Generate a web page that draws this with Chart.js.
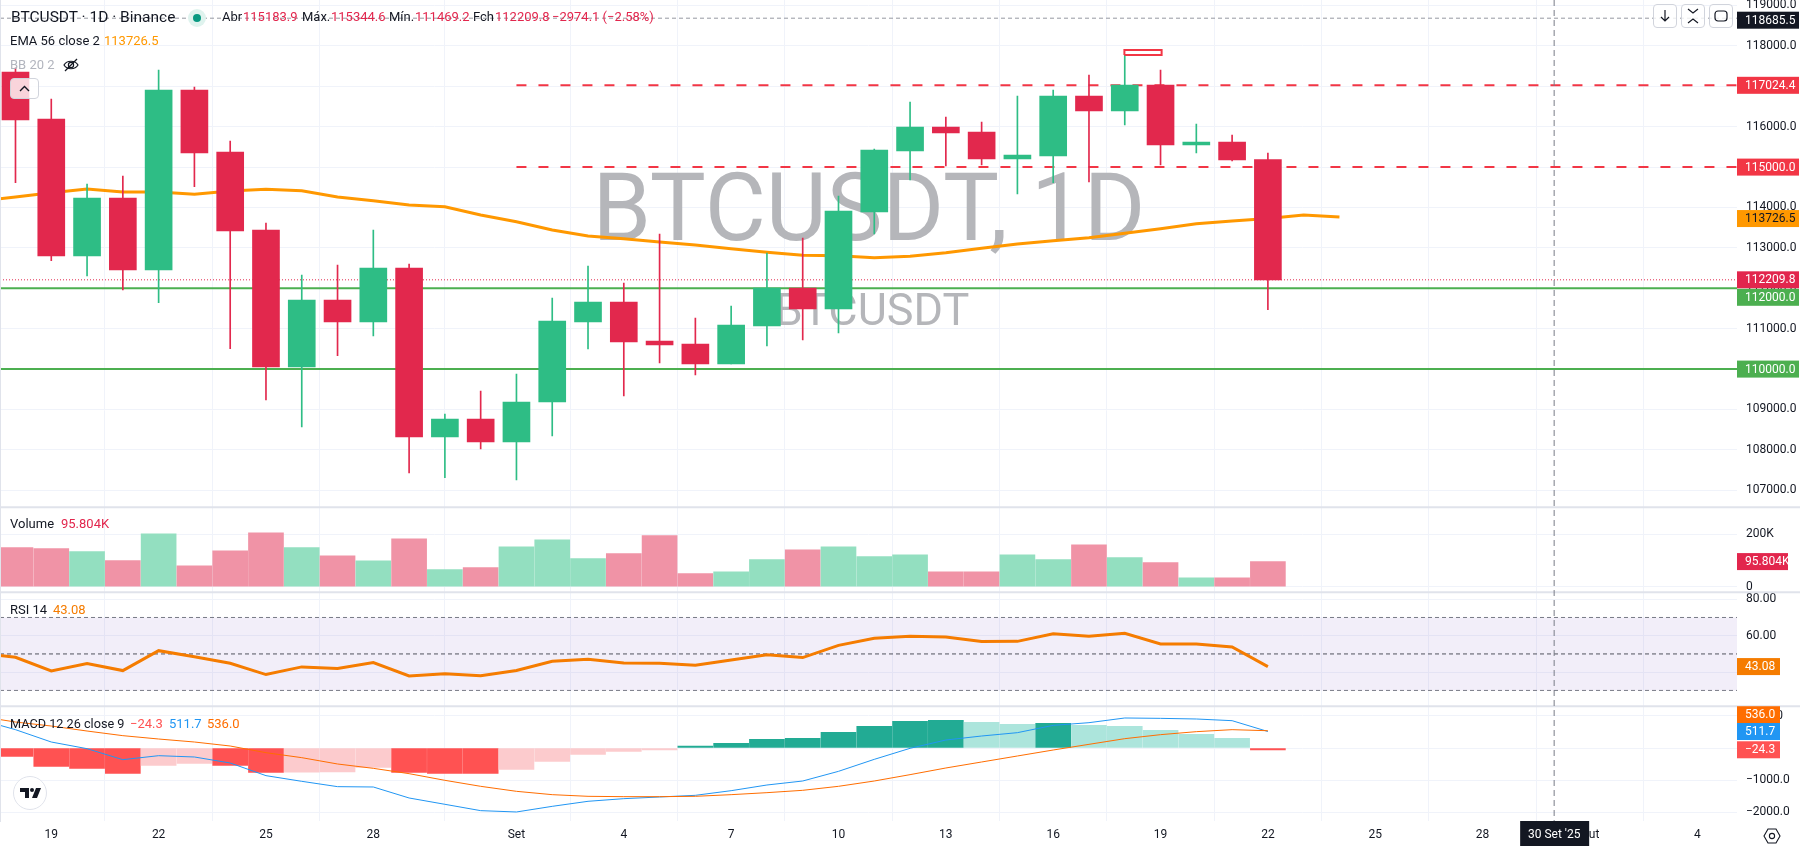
<!DOCTYPE html>
<html>
<head>
<meta charset="utf-8">
<title>BTCUSDT 1D</title>
<script src="https://cdn.jsdelivr.net/npm/chart.js@4/dist/chart.umd.min.js"></script>
<style>
  html, body { margin: 0; padding: 0; background: #fff; }
  #wrap { position: relative; width: 1800px; height: 850px; overflow: hidden; font-family: Roboto, sans-serif; color: #131722; }
  #wrap canvas { position: absolute; left: 0; top: 0; }
  .t { position: absolute; white-space: nowrap; font-size: 13px; line-height: 16px; }
  .r { color: #e2264d; }
  .btn { position: absolute; box-sizing: border-box; border: 1px solid #d1d4dc; border-radius: 4px; background: rgba(255,255,255,.8); }
  .btn svg, #logo svg { position: absolute; left: 0; top: 0; }
  #logo { position: absolute; left: 13px; top: 776px; width: 34px; height: 34px; box-sizing: border-box; border: 1px solid #e0e3eb; border-radius: 50%; background: #fff; }
  #edge { position: absolute; left: 0; top: 0; width: 1px; height: 822px; background: #e0e3eb; }
</style>
</head>
<body>
<div id="wrap">
  <canvas id="chart" width="1800" height="850"></canvas>
  <div id="edge"></div>

  <div class="t" style="left:11px;top:8px;font-size:15.5px;line-height:18px">BTCUSDT · 1D · Binance</div>
  <svg style="position:absolute;left:187px;top:8px" width="20" height="20"><circle cx="10" cy="10" r="9" fill="#dff3ee"/><circle cx="10" cy="10" r="4" fill="#089981"/></svg>
  <div class="t" style="left:222px;top:9px">Abr</div><div class="t r" style="left:243px;top:9px">115183.9</div>
  <div class="t" style="left:302px;top:9px">Máx.</div><div class="t r" style="left:331px;top:9px">115344.6</div>
  <div class="t" style="left:389px;top:9px">Mín.</div><div class="t r" style="left:415px;top:9px">111469.2</div>
  <div class="t" style="left:473px;top:9px">Fch</div><div class="t r" style="left:495px;top:9px">112209.8</div>
  <div class="t r" style="left:552px;top:9px">−2974.1 (−2.58%)</div>

  <div class="t" style="left:10px;top:33px">EMA 56 close 2</div>
  <div class="t" style="left:104px;top:33px;color:#ff9800">113726.5</div>
  <div class="t" style="left:10px;top:57px;color:#b2b5be">BB 20 2</div>
  <svg style="position:absolute;left:62px;top:56px" width="18" height="18" fill="none" stroke="#131722" stroke-width="1.2"><path d="M2 9c3-5 11-5 14 0c-3 5-11 5-14 0z"/><circle cx="9" cy="9" r="2.6"/><path d="M3 15L15 3"/></svg>

  <div class="t" style="left:10px;top:516px">Volume</div>
  <div class="t r" style="left:61px;top:516px">95.804K</div>
  <div class="t" style="left:10px;top:602px">RSI 14</div>
  <div class="t" style="left:53px;top:602px;color:#f57c00">43.08</div>
  <div class="t" style="left:10px;top:716px;font-size:12.7px">MACD 12 26 close 9</div>
  <div class="t" style="left:130px;top:716px;color:#ff5252">−24.3</div>
  <div class="t" style="left:169px;top:716px;color:#2196f3">511.7</div>
  <div class="t" style="left:207px;top:716px;color:#ff6d00">536.0</div>

  <div class="btn" style="left:10px;top:78px;width:29px;height:21px">
    <svg width="27" height="19" fill="none" stroke="#131722" stroke-width="1.4"><path d="M9 12l4.5-4.5L18 12"/></svg>
  </div>
  <div class="btn" style="left:1653px;top:4px;width:24px;height:24px">
    <svg width="22" height="22" fill="none" stroke="#131722" stroke-width="1.2"><path d="M11 5v11M7 12l4 4 4-4"/></svg>
  </div>
  <div class="btn" style="left:1681px;top:4px;width:24px;height:24px">
    <svg width="22" height="22" fill="none" stroke="#131722" stroke-width="1.2"><path d="M6 4l5 4 5-4M6 18l5-4 5 4"/></svg>
  </div>
  <div class="btn" style="left:1709px;top:4px;width:24px;height:24px">
    <svg width="22" height="22" fill="none" stroke="#131722" stroke-width="1.2"><rect x="5" y="6" width="12" height="10" rx="3"/></svg>
  </div>
  <div id="logo">
    <svg width="32" height="32" fill="#131722"><path d="M6 11h9v10h-4v-6H6zM22 11h5l-4 10h-5z"/><circle cx="18" cy="13" r="2"/></svg>
  </div>
  <svg style="position:absolute;left:1763px;top:827px" width="18" height="18" fill="none" stroke="#131722" stroke-width="1.1"><path d="M5 2h8l4 7-4 7H5L1 9z"/><circle cx="9" cy="9" r="2.6"/></svg>
</div>

<script>
// one row per day, index 0 = 18 Ago, index 35 = 22 Set
const candleOpen = [117353, 116190, 112799, 114234, 112452, 116907, 115373, 113442, 110052, 111710, 111165, 112502,
  108319, 108765, 108195, 109185, 111165, 111660, 110695, 110621, 110126, 111066, 112007, 111487,
  113888, 115398, 115992, 115868, 115200, 115274, 116759, 116388, 117031, 115546, 115620, 115183.9];
const candleHigh = [117452, 116685, 114581, 114779, 117402, 116982, 115645, 113616, 112329, 112576, 113442, 112601,
  108888, 109458, 109878, 111759, 112551, 112131, 113343, 111264, 111561, 112873, 113244, 114284,
  115447, 116610, 116239, 116115, 116759, 116907, 117279, 117774, 117402, 116066, 115794, 115344.6];
const candleLow = [114613, 112683, 112304, 111957, 111643, 114514, 110505, 109235, 108567, 110331, 110819, 107428,
  107314, 108022, 107255, 108344, 110497, 109334, 110151, 109854, 110126, 110571, 110720, 110893,
  113343, 114680, 115026, 115051, 114333, 114613, 114630, 116041, 115051, 115348, 115150, 111469.2];
const candleClose = [116165, 112799, 114234, 112452, 116907, 115348, 113418, 110052, 111710, 111165, 112502, 108319,
  108765, 108195, 109185, 111190, 111660, 110670, 110596, 110126, 111091, 112007, 111487, 113913,
  115422, 115992, 115843, 115200, 115299, 116759, 116388, 117031, 115546, 115620, 115175, 112209.8];

const volumeK = [148.8, 145, 133.6, 99.2, 202, 80, 137, 206, 149, 118, 99, 183,
  65, 72.5, 152.6, 179, 107, 126, 194.6, 49.6, 57, 103, 141, 152.6,
  114.5, 122, 57, 57, 122, 103, 160, 110.7, 91.6, 34, 34, 95.8];

// these two start one day earlier (17 Ago) so the line runs off the left edge
const rsiValues = [50.4, 48.2, 40.7, 44.7, 40.9, 51.8, 48.5, 44.9, 38.7, 42.9, 42, 45.3, 37.9,
  39.2, 38.1, 40.9, 46, 47.1, 45.1, 44.9, 43.8, 46.7, 49.5, 48, 54.7,
  58.6, 59.7, 59.3, 56.8, 56.9, 61.1, 59.7, 61.3, 55.5, 55.5, 53.8, 43.08];
const emaValues = [114160, 114259, 114366, 114457, 114383, 114383, 114326, 114408, 114450, 114415, 114259, 114168, 114061,
  114019, 113814, 113648, 113442, 113294, 113227, 113145, 113071, 112980, 112891, 112816, 112806,
  112757, 112792, 112881, 112990, 113096, 113178, 113252, 113361, 113475, 113598, 113665, 113726.5, 113814, 113764];

const macdHist = [-258, -569, -631, -786, -538, -476, -538, -755, -750, -745, -600, -760,
  -786, -790, -662, -414, -196, -103, -41, 31, 145, 269, 300, 486,
  672, 827, 858, 796, 734, 765, 703, 672, 548, 424, 300, -24.3];
const macdLine = [879, 569, 186, -21, -362, -238, -279, -465, -858, -1034, -1199, -1210, -1551,
  -1747, -1944, -1985, -1810, -1654, -1572, -1520, -1468, -1324, -1148, -1024, -724,
  -352, -10, 248, 372, 476, 703, 786, 931, 920, 900, 848, 511.7];
const macdSignal = [982, 806, 682, 527, 383, 279, 186, 62, -145, -300, -496, -631, -796,
  -1003, -1189, -1344, -1448, -1499, -1510, -1510, -1499, -1448, -1386, -1313, -1189,
  -1024, -827, -620, -434, -248, -62, 114, 290, 414, 507, 569, 536];

const priceTicks = [107000, 108000, 109000, 110000, 111000, 112000, 113000, 114000, 115000, 116000, 117000, 118000, 119000];
const volumeTicks = [0, 200];
const rsiTicks = [40, 60, 80];
const macdTicks = [-2000, -1000, 0, 1000];

const dayTicks = [1, 4, 7, 10, 14, 17, 20, 23, 26, 29, 32, 35, 38, 41, 44, 47];
const dayLabels = ['19', '22', '25', '28', 'Set', '4', '7', '10', '13', '16', '19', '22', '25', '28', 'Out', '4'];
const crosshairDay = 43;
const crosshairLabel = "30 Set '25";

const X_MIN = -0.433, X_MAX = 48.11;
const UP = '#2ebd85', DOWN = '#e2284d';

// drawn levels
const dashedRed = [117024.4, 115000];
const dashedRedFrom = 14;
const solidGreen = [112000, 110000];
const lastClose = 112209.8;
const highLine = 118685.5;
const rsiLevels = [70, 50, 30];
const boxDays = [30.99, 32.03];
const boxPrices = [117774, 117897];

const days = candleOpen.map((_, i) => i);
const isUp = i => candleClose[i] >= candleOpen[i];
const series = (values, first) => values.map((y, k) => ({ x: first + k, y }));
const hLine = (y, from = X_MIN) => [{ x: from, y }, { x: X_MAX, y }];

function histColor(i) {
  const v = macdHist[i], prev = i ? macdHist[i - 1] : 0;
  if (v >= 0) return v >= prev ? '#22ab94' : '#ace5dc';
  return v <= prev ? '#ff5252' : '#fccbcd';
}

const line = (data, yAxisID, color, width, order, dash) => ({
  type: 'line', data, yAxisID, borderColor: color, borderWidth: width, borderDash: dash || [],
  pointRadius: 0, tension: 0, order, fill: false
});

const datasets = [
  // price pane
  line(hLine(highLine), 'price', '#9598a1', 1, 30, [4, 3]),
  line(hLine(lastClose), 'price', '#e2264d', 1, 29, [1, 2]),
  ...solidGreen.map(v => line(hLine(v), 'price', '#4caf50', 2, 28)),
  ...dashedRed.map(v => line(hLine(v, dashedRedFrom), 'price', '#f23645', 2, 27, [10, 12])),
  line(series(emaValues, -1), 'price', '#ff9800', 3, 20),
  {
    type: 'bar', yAxisID: 'price', grouped: false, barThickness: 1, order: 10,
    data: days.map(i => ({ x: i, y: [candleLow[i], candleHigh[i]] })),
    backgroundColor: days.map(i => isUp(i) ? UP : DOWN)
  },
  {
    type: 'bar', yAxisID: 'price', grouped: false, barThickness: 27, order: 9,
    data: days.map(i => ({ x: i, y: [candleOpen[i], candleClose[i]] })),
    backgroundColor: days.map(i => isUp(i) ? UP : DOWN)
  },
  line([
    { x: boxDays[0], y: boxPrices[0] }, { x: boxDays[1], y: boxPrices[0] },
    { x: boxDays[1], y: boxPrices[1] }, { x: boxDays[0], y: boxPrices[1] },
    { x: boxDays[0], y: boxPrices[0] }
  ], 'price', '#f23645', 2, 8),

  // volume pane
  {
    type: 'bar', yAxisID: 'volume', grouped: false, barThickness: 35, order: 10,
    data: days.map(i => ({ x: i, y: volumeK[i] })),
    backgroundColor: days.map(i => isUp(i) ? '#93dfc0' : '#f093a6')
  },

  // rsi pane
  ...rsiLevels.map(v => line(hLine(v), 'rsi', v === 50 ? '#50535e' : '#787b86', 1, 12, [4, 3])),
  line(series(rsiValues, -1), 'rsi', '#f57c00', 3, 5),

  // macd pane
  {
    type: 'bar', yAxisID: 'macd', grouped: false, barThickness: 35, minBarLength: 2, order: 10,
    data: days.map(i => ({ x: i, y: macdHist[i] })),
    backgroundColor: days.map(histColor)
  },
  line(series(macdLine, -1), 'macd', '#2196f3', 1, 6),
  line(series(macdSignal, -1), 'macd', '#ff6d00', 1, 5)
];

const FONT = '12px Roboto';
const GRID = '#f0f3fa';

const tags = [
  { text: '118685.5', axis: 'price', value: highLine, bg: '#131722', fg: '#fff', shift: 2 },
  { text: '117024.4', axis: 'price', value: 117024.4, bg: '#f23645', fg: '#fff' },
  { text: '115000.0', axis: 'price', value: 115000, bg: '#f23645', fg: '#fff' },
  { text: '113726.5', axis: 'price', value: 113726.5, bg: '#ff9800', fg: '#131722' },
  { text: '112209.8', axis: 'price', value: lastClose, bg: '#e2264d', fg: '#fff' },
  { text: '112000.0', axis: 'price', value: 112000, bg: '#4caf50', fg: '#fff', shift: 9 },
  { text: '110000.0', axis: 'price', value: 110000, bg: '#4caf50', fg: '#fff' },
  { text: '95.804K', axis: 'volume', value: 95.8, bg: '#e2264d', fg: '#fff', w: 51 },
  { text: '43.08', axis: 'rsi', value: 43.08, bg: '#f57c00', fg: '#fff', w: 43 },
  { text: '536.0', axis: 'macd', value: 536, bg: '#ff6d00', fg: '#fff', w: 43, shift: -16 },
  { text: '511.7', axis: 'macd', value: 511.7, bg: '#2196f3', fg: '#fff', w: 43 },
  { text: '−24.3', axis: 'macd', value: -24.3, bg: '#ff5252', fg: '#fff', w: 43, shift: 1 }
];

// watermark, rsi band, pane separators, crosshair and the price tags
const decorations = {
  id: 'decorations',
  beforeDatasetsDraw(chart) {
    const { ctx, chartArea, scales } = chart;
    ctx.save();
    ctx.fillStyle = 'rgba(126,87,194,0.1)';
    const top = scales.rsi.getPixelForValue(70), bottom = scales.rsi.getPixelForValue(30);
    ctx.fillRect(chartArea.left, top, chartArea.right - chartArea.left, bottom - top);

    ctx.fillStyle = '#b5b6ba';
    ctx.textBaseline = 'alphabetic';
    ctx.textAlign = 'center';
    ctx.font = '94px Roboto';
    ctx.fillText('BTCUSDT, 1D', 869, 240);
    ctx.font = '45px Roboto';
    ctx.fillText('BTCUSDT', 872, 325);
    ctx.restore();
  },
  afterDatasetsDraw(chart) {
    const { ctx, chartArea, scales } = chart;
    ctx.save();

    ctx.strokeStyle = '#e0e3eb';
    ctx.lineWidth = 2;
    ['price', 'volume', 'rsi'].forEach(id => {
      const y = scales[id].bottom;
      ctx.beginPath();
      ctx.moveTo(0, y);
      ctx.lineTo(chart.width, y);
      ctx.stroke();
    });

    const cx = scales.x.getPixelForValue(crosshairDay);
    ctx.strokeStyle = '#787b86';
    ctx.lineWidth = 1;
    ctx.setLineDash([6, 4]);
    ctx.beginPath();
    ctx.moveTo(cx, 0);
    ctx.lineTo(cx, chartArea.bottom);
    ctx.stroke();
    ctx.setLineDash([]);

    ctx.font = FONT;
    ctx.textBaseline = 'middle';
    ctx.textAlign = 'left';
    tags.forEach(tag => {
      const y = scales[tag.axis].getPixelForValue(tag.value) + (tag.shift || 0);
      ctx.fillStyle = tag.bg;
      ctx.fillRect(chartArea.right, y - 8.5, tag.w || 62, 17);
      ctx.fillStyle = tag.fg;
      ctx.fillText(tag.text, chartArea.right + 8, y + 0.5);
    });

    ctx.fillStyle = '#131722';
    ctx.fillRect(cx - 34, chartArea.bottom, 69, 25);
    ctx.fillStyle = '#fff';
    ctx.textAlign = 'center';
    ctx.fillText(crosshairLabel, cx, chartArea.bottom + 14);
    ctx.restore();
  }
};

// keep the tick padding out of the layout, panes must fill the whole height
function noPadding(axis) {
  axis.paddingTop = axis.paddingBottom = axis.paddingLeft = axis.paddingRight = 0;
}

function yAxis(weight, stackWeight, min, max, ticks, format) {
  return {
    type: 'linear', position: 'right', stack: 'panes', stackWeight, weight, min, max,
    afterBuildTicks: axis => { axis.ticks = ticks.map(value => ({ value })); },
    afterFit: axis => { axis.width = 63; noPadding(axis); },
    grid: { color: GRID, drawTicks: false },
    border: { display: false },
    ticks: { color: '#131722', font: { family: 'Roboto', size: 12 }, padding: 9, autoSkip: false, callback: format }
  };
}

new Chart(document.getElementById('chart').getContext('2d'), {
  data: { datasets },
  plugins: [decorations],
  options: {
    responsive: false,
    animation: false,
    devicePixelRatio: 1,
    events: [],
    layout: { autoPadding: false, padding: 0 },
    plugins: { legend: { display: false }, tooltip: { enabled: false } },
    scales: {
      x: {
        type: 'linear', min: X_MIN, max: X_MAX, offset: false,
        afterBuildTicks: axis => { axis.ticks = dayTicks.map(value => ({ value })); },
        afterFit: axis => { axis.height = 29; noPadding(axis); },
        grid: { color: GRID, drawTicks: false },
        border: { display: false },
        ticks: {
          color: '#131722', font: { family: 'Roboto', size: 12 }, padding: 7, maxRotation: 0, autoSkip: false,
          callback: value => dayLabels[dayTicks.indexOf(value)]
        }
      },
      price: yAxis(1, 507.3, 106579, 119136, priceTicks, v => v.toFixed(1)),
      volume: yAxis(2, 85, -21.4, 303, volumeTicks, v => v ? v + 'K' : '0'),
      rsi: yAxis(3, 114, 21.3, 83.8, rsiTicks, v => v.toFixed(2)),
      macd: yAxis(4, 114.7, -2265, 1294, macdTicks, v => v.toFixed(1).replace('-', '−'))
    }
  }
});
</script>
</body>
</html>
